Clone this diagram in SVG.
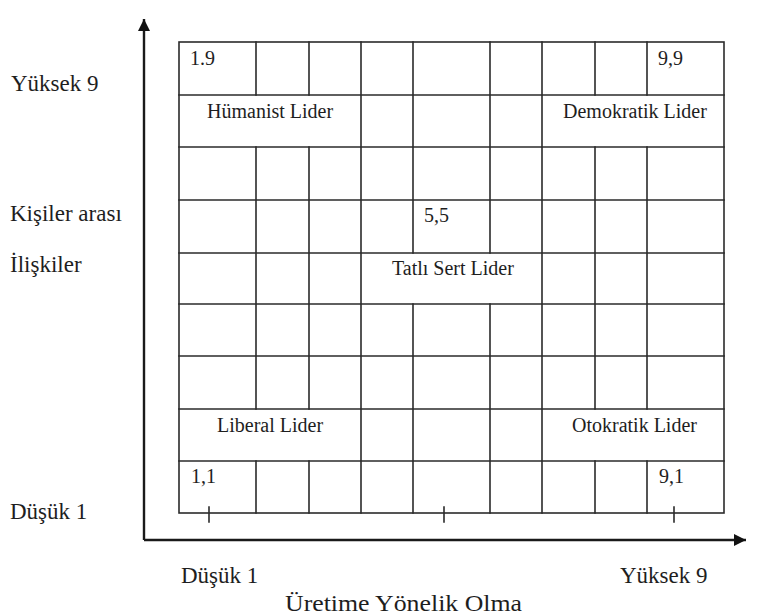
<svg xmlns="http://www.w3.org/2000/svg" width="758" height="615" viewBox="0 0 758 615">
<defs>
<style>
.g{stroke:#2b2b2b;stroke-width:1.6;fill:none;stroke-linecap:square}
.ax{stroke:#1a1a1a;stroke-width:2.4;fill:none}
.t{fill:#1e1e1e;font-family:'Liberation Serif',serif}
.c{font-size:20px}
.l{font-size:23px}
</style>
<marker id="ah" markerUnits="userSpaceOnUse" markerWidth="14" markerHeight="12" refX="12" refY="6" orient="auto">
<path d="M0,0 L12,6 L0,12 Z" fill="#111"/>
</marker>
</defs>
<rect width="758" height="615" fill="#fff"/>

<g id="connectors">
<line class="ax" x1="144" y1="540" x2="144" y2="19" marker-end="url(#ah)"/>
<line class="ax" x1="144" y1="540" x2="746" y2="540" marker-end="url(#ah)"/>
<path class="g" d="M209,507V522 M444,507V522 M674,507V522"/>
</g>

<g id="grid">
<rect class="g" x="179" y="42" width="545" height="471"/>
<path class="g" d="M179,95H724 M179,147H724 M179,200H724 M179,253H724 M179,304H724 M179,356H724 M179,409H724 M179,461H724"/>
<path class="g" d="M256,42V95 M256,147V409 M256,461V513 M309,42V95 M309,147V409 M309,461V513"/>
<path class="g" d="M361,42V513 M542,42V513"/>
<path class="g" d="M413,42V253 M413,304V513 M490,42V253 M490,304V513"/>
<path class="g" d="M595,42V95 M595,147V409 M595,461V513 M647,42V95 M647,147V409 M647,461V513"/>
</g>

<g id="cell-1-9"><text class="t c" x="190" y="65">1.9</text></g>
<g id="cell-9-9"><text class="t c" x="658" y="65">9,9</text></g>
<g id="humanist"><text class="t c" x="207" y="118">Hümanist Lider</text></g>
<g id="demokratik"><text class="t c" x="563" y="118">Demokratik Lider</text></g>
<g id="cell-5-5"><text class="t c" x="424" y="222">5,5</text></g>
<g id="tatli-sert"><text class="t c" x="392" y="275">Tatlı Sert Lider</text></g>
<g id="liberal"><text class="t c" x="217" y="432">Liberal Lider</text></g>
<g id="otokratik"><text class="t c" x="572" y="432">Otokratik Lider</text></g>
<g id="cell-1-1"><text class="t c" x="191" y="483">1,1</text></g>
<g id="cell-9-1"><text class="t c" x="659" y="483">9,1</text></g>

<g id="y-labels">
<text class="t l" x="11" y="91">Yüksek 9</text>
<text class="t l" x="10" y="221">Kişiler arası</text>
<text class="t l" x="10" y="272">İlişkiler</text>
<text class="t l" x="10" y="519">Düşük 1</text>
</g>
<g id="x-labels">
<text class="t l" x="181" y="583">Düşük 1</text>
<text class="t l" x="620" y="583">Yüksek 9</text>
<text class="t" font-size="24" x="285" y="611" textLength="237" lengthAdjust="spacingAndGlyphs">Üretime Yönelik Olma</text>
</g>
</svg>
